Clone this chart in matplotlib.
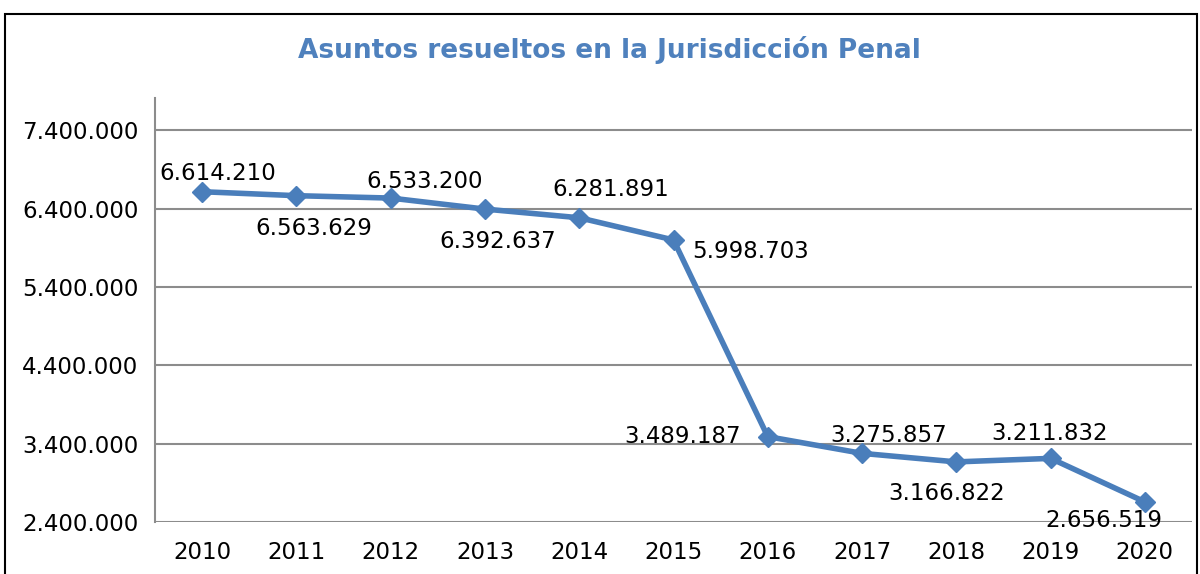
import matplotlib
matplotlib.use("Agg")
import matplotlib.pyplot as plt
from matplotlib.patches import Rectangle
from matplotlib.ticker import FuncFormatter

# datos
years = ["2010", "2011", "2012", "2013", "2014", "2015", "2016", "2017", "2018", "2019", "2020"]
resueltos = [6614210, 6563629, 6533200, 6392637, 6281891, 5998703,
             3489187, 3275857, 3166822, 3211832, 2656519]
y_ticks = [2400000, 3400000, 4400000, 5400000, 6400000, 7400000]

# desplazamiento de cada etiqueta respecto al punto (px)
label_offsets = [(16, 18), (17, -33), (34, 17), (13, -32), (32, 28), (77, -12),
                 (-85, 0), (27, 18), (-10, -32), (-1, 25), (-41, -19)]

def fmt(v):
    return f"{int(v):,}".replace(",", ".")

line_color = "#4A7EBB"
grid_color = "#8C8C8C"
fs = 16.5

fig = plt.figure(figsize=(12, 5.74), dpi=100)
ax = fig.add_axes([155 / 1200, 1 - 522 / 574, (1192 - 155) / 1200, (522 - 98) / 574])

x = list(range(len(years)))
ax.plot(x, resueltos, color=line_color, lw=4, marker="D", markersize=10,
        markeredgecolor=line_color, zorder=3)

for i, v in enumerate(resueltos):
    dx, dy = label_offsets[i]
    ax.annotate(fmt(v), (i, v), xytext=(dx * 0.72, dy * 0.72), textcoords="offset points",
                ha="center", va="center", fontsize=fs, color="black", zorder=4)

ax.set_xlim(-0.5, len(years) - 0.5)
ax.set_ylim(2400000, 7810000)
ax.set_yticks(y_ticks)
ax.yaxis.set_major_formatter(FuncFormatter(lambda v, p: fmt(v)))
ax.set_xticks(x)
ax.set_xticklabels(years)
ax.tick_params(axis="both", length=0, labelsize=fs, colors="black")
ax.tick_params(axis="y", pad=12)
ax.tick_params(axis="x", pad=14)
ax.grid(axis="y", color=grid_color, lw=1.5)
ax.set_axisbelow(True)
for s in ["top", "right", "bottom"]:
    ax.spines[s].set_visible(False)
ax.spines["left"].set_color(grid_color)
ax.spines["left"].set_linewidth(1.5)

fig.text(0.508, 1 - 50 / 574, "Asuntos resueltos en la Jurisdicción Penal",
         ha="center", va="center", fontsize=19, fontweight="bold", color="#4F81BD")

# marco exterior
fig.patches.append(Rectangle((5 / 1200, -0.05), (1197 - 5) / 1200, 1.05 - 14 / 574,
                             transform=fig.transFigure, fill=False, edgecolor="black",
                             lw=1.5, zorder=10))

fig.savefig("out.png", dpi=100)
